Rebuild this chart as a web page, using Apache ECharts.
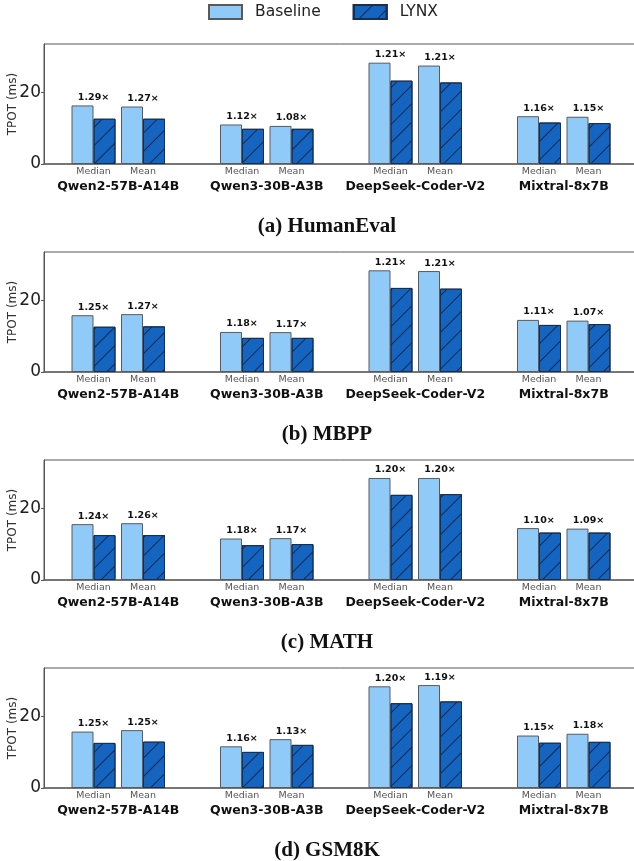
<!DOCTYPE html>
<html>
<head>
<meta charset="utf-8">
<script src="https://cdn.jsdelivr.net/npm/echarts@6/dist/echarts.min.js"></script>
<style>html,body{margin:0;padding:0;background:#fff}#c{width:634px;height:861px}</style>
</head>
<body>
<div id="c"></div>
<script>
const models = ['Qwen2-57B-A14B', 'Qwen3-30B-A3B', 'DeepSeek-Coder-V2', 'Mixtral-8x7B'];
const stats = ['Median', 'Mean'];
const panelTitles = ['(a) HumanEval', '(b) MBPP', '(c) MATH', '(d) GSM8K'];
const yTicks = [0, 20];

// order: per model -> Median, Mean
const baselineHumanEval = [16.3, 16.0, 11.0, 10.6, 28.2, 27.4, 13.3, 13.15];
const lynxHumanEval     = [12.6, 12.6, 9.8, 9.8, 23.2, 22.7, 11.55, 11.4];
const speedupHumanEval  = ['1.29×', '1.27×', '1.12×', '1.08×', '1.21×', '1.21×', '1.16×', '1.15×'];

const baselineMBPP = [15.8, 16.1, 11.15, 11.1, 28.3, 28.1, 14.5, 14.3];
const lynxMBPP     = [12.6, 12.7, 9.5, 9.5, 23.4, 23.2, 13.1, 13.35];
const speedupMBPP  = ['1.25×', '1.27×', '1.18×', '1.17×', '1.21×', '1.21×', '1.11×', '1.07×'];

const baselineMATH = [15.55, 15.8, 11.55, 11.65, 28.4, 28.4, 14.45, 14.3];
const lynxMATH     = [12.5, 12.5, 9.7, 10.0, 23.7, 23.9, 13.2, 13.2];
const speedupMATH  = ['1.24×', '1.26×', '1.18×', '1.17×', '1.20×', '1.20×', '1.10×', '1.09×'];

const baselineGSM8K = [15.7, 16.1, 11.6, 13.6, 28.3, 28.65, 14.6, 15.1];
const lynxGSM8K     = [12.55, 12.9, 10.05, 12.0, 23.6, 24.1, 12.6, 12.85];
const speedupGSM8K  = ['1.25×', '1.25×', '1.16×', '1.13×', '1.20×', '1.19×', '1.15×', '1.18×'];

const panels = [
  {title: panelTitles[0], base: baselineHumanEval, lynx: lynxHumanEval, sp: speedupHumanEval},
  {title: panelTitles[1], base: baselineMBPP, lynx: lynxMBPP, sp: speedupMBPP},
  {title: panelTitles[2], base: baselineMATH, lynx: lynxMATH, sp: speedupMATH},
  {title: panelTitles[3], base: baselineGSM8K, lynx: lynxGSM8K, sp: speedupGSM8K}
];

// slot position on x scale: model index * 3 + stat index (one empty slot between models)
function slot(i) { return Math.floor(i / 2) * 3 + (i % 2); }

const FONT = 'DejaVu Sans';
const gridTops = [44, 252, 460, 668];
const gridH = 120;

const hatch = {symbol: 'rect', symbolSize: 1, dashArrayX: [1, 0], dashArrayY: [1, 12],
  rotation: -Math.PI / 4, color: 'rgba(12,28,52,0.8)'};

const option = {
  animation: false,
  backgroundColor: '#fff',
  title: [],
  legend: {
    data: ['Baseline', 'LYNX'],
    top: 4, left: 208, padding: 0,
    icon: 'rect',
    itemWidth: 33, itemHeight: 14, itemGap: 32,
    textStyle: {fontFamily: FONT, fontSize: 15.5, color: '#222', padding: [0, 0, 0, 8]}
  },
  grid: [], xAxis: [], yAxis: [], series: []
};

panels.forEach((p, k) => {
  option.title.push({
    text: p.title, left: 322, top: gridTops[k] + 167, textAlign: 'center',
    textStyle: {fontFamily: 'Liberation Serif', fontWeight: 'bold', fontSize: 21, color: '#111'}
  });
  option.grid.push({
    left: 44, right: -4, top: gridTops[k], height: gridH,
    outerBoundsMode: 'none', containLabel: false,
    show: true, borderColor: '#555', borderWidth: 1, backgroundColor: 'transparent'
  });
  option.xAxis.push({
    type: 'value', gridIndex: k, min: -1, max: 11, interval: 0.5,
    axisLine: {show: true, onZero: false, lineStyle: {color: '#666', width: 1.5}},
    axisTick: {show: false}, splitLine: {show: false},
    axisLabel: {
      margin: 3, fontFamily: FONT, fontSize: 9.5, color: '#555', showMinLabel: true, showMaxLabel: true,
      formatter: v => {
        const r = Math.round(v * 2) / 2;
        if (Number.isInteger(r) && r >= 0 && r % 3 !== 2) return stats[r % 3];
        return '';
      }
    }
  });
  option.xAxis.push({
    type: 'value', gridIndex: k, min: -1, max: 11, interval: 0.5, position: 'bottom',
    axisLine: {show: false, onZero: false}, axisTick: {show: false}, splitLine: {show: false},
    axisLabel: {
      margin: 16, fontFamily: FONT, fontSize: 12.5, fontWeight: 'bold', color: '#111',
      formatter: v => {
        const r = Math.round(v * 2) / 2 - 0.5;
        if (Number.isInteger(r) && r >= 0 && r % 3 === 0) return models[r / 3];
        return '';
      }
    }
  });
  option.yAxis.push({
    type: 'value', gridIndex: k, min: 0, max: 33.4, interval: 20,
    name: 'TPOT (ms)', nameLocation: 'middle', nameGap: 25, nameMoveOverlap: false,
    nameTextStyle: {fontFamily: FONT, fontSize: 12, color: '#333'},
    axisLine: {show: true, onZero: false, lineStyle: {color: '#555'}},
    axisTick: {show: true, length: 3, lineStyle: {color: '#555'}, customValues: yTicks},
    axisLabel: {margin: 3, fontFamily: FONT, fontSize: 17, color: '#222', customValues: yTicks,
      formatter: v => (yTicks.indexOf(v) >= 0 ? String(v) : '')},
    splitLine: {show: true, lineStyle: {color: '#eee', width: 1}, showMinLine: false, showMaxLine: false}
  });
  option.series.push({
    name: 'Baseline', type: 'bar', xAxisIndex: 2 * k, yAxisIndex: k,
    barWidth: 22, barGap: '0%',
    itemStyle: {color: '#90CAF9', borderColor: '#5a5a5a', borderWidth: 1},
    label: {
      show: true, position: 'top', distance: 3, offset: [11, 0],
      fontFamily: FONT, fontSize: 9.5, fontWeight: 'bold', color: '#111',
      formatter: params => p.sp[params.dataIndex]
    },
    data: p.base.map((v, i) => [slot(i), v])
  });
  option.series.push({
    name: 'LYNX', type: 'bar', xAxisIndex: 2 * k, yAxisIndex: k,
    barWidth: 22, barGap: '0%',
    itemStyle: {color: '#1565C0', borderColor: '#1b2f4c', borderWidth: 1, decal: hatch},
    data: p.lynx.map((v, i) => [slot(i), v])
  });
});

const chart = echarts.init(document.getElementById('c'), null, {renderer: 'canvas'});
chart.setOption(option);
</script>
</body>
</html>
